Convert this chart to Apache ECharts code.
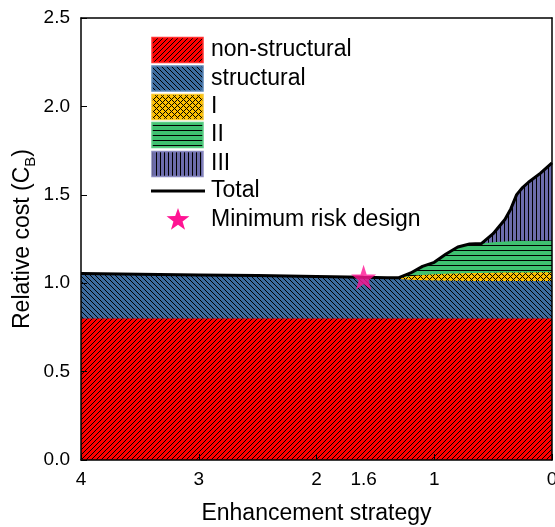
<!DOCTYPE html>
<html>
<head>
<meta charset="utf-8">
<script src="https://cdn.jsdelivr.net/npm/echarts@6/dist/echarts.min.js"></script>
<style>
  html, body { margin: 0; padding: 0; background: #fff; overflow: hidden; }
  #chart { width: 555px; height: 527px; }
</style>
</head>
<body>
<div id="chart"></div>
<script>
// Enhancement strategy (x) and the cost components stacked on top of each other
const strategy      = [4, 3.5, 3, 2.5, 2, 1.6, 1.4, 1.3, 1.2, 1.1, 1.0, 0.9, 0.8, 0.7, 0.6, 0.5, 0.4, 0.35, 0.3, 0.25, 0.2, 0.1, 0];
const nonStructural = [0.8, 0.8, 0.8, 0.8, 0.8, 0.8, 0.8, 0.8, 0.8, 0.8, 0.8, 0.8, 0.8, 0.8, 0.8, 0.8, 0.8, 0.8, 0.8, 0.8, 0.8, 0.8, 0.8];
const structural    = [0.255, 0.251, 0.247, 0.243, 0.238, 0.233, 0.228, 0.224, 0.220, 0.217, 0.215, 0.214, 0.214, 0.213, 0.213, 0.213, 0.213, 0.213, 0.213, 0.213, 0.213, 0.213, 0.213];
const costI         = [0, 0, 0, 0, 0, 0, 0.003, 0.007, 0.020, 0.029, 0.035, 0.039, 0.041, 0.044, 0.045, 0.046, 0.047, 0.047, 0.048, 0.048, 0.048, 0.049, 0.049];
const costII        = [0, 0, 0, 0, 0, 0, 0, 0, 0.018, 0.049, 0.068, 0.112, 0.150, 0.165, 0.166, 0.173, 0.176, 0.177, 0.180, 0.180, 0.178, 0.181, 0.180];
const costIII       = [0, 0, 0, 0, 0, 0, 0, 0, 0, 0, 0, 0, 0, 0, 0, 0.048, 0.124, 0.183, 0.260, 0.300, 0.332, 0.378, 0.438];

const minRiskStrategy = 1.6;
const xTickValues  = [4, 3, 2, 1, 0];
const xLabelValues = [4, 3, 2, 1.6, 1, 0];

const FONT = 'Liberation Sans, Arial, sans-serif';

// ---- hatch pattern tiles ----
function makeTile(size, base, isInk) {
  const c = document.createElement('canvas');
  c.width = size; c.height = size;
  const ctx = c.getContext('2d');
  ctx.fillStyle = base;
  ctx.fillRect(0, 0, size, size);
  ctx.fillStyle = '#000';
  for (let y = 0; y < size; y++) {
    for (let x = 0; x < size; x++) {
      if (isInk(x, y)) ctx.fillRect(x, y, 1, 1);
    }
  }
  return c;
}
const mod = (a, n) => ((a % n) + n) % n;
const tiles = {
  nonStructural: makeTile(5, '#ff0000', (x, y) => mod(x + y, 5) === 0),
  structural:    makeTile(5, '#3d6c9f', (x, y) => mod(x - y, 5) === 0),
  I:             makeTile(6, '#ffc000', (x, y) => mod(x + y, 6) === 0 || mod(x - y, 6) === 0),
  II:            makeTile(5, '#3fc170', (x, y) => y === 0),
  III:           makeTile(4, '#6c6cab', (x, y) => x === 0)
};
const pat = t => ({ image: t, repeat: 'repeat' });

const layers = [
  { name: 'non-structural', data: nonStructural, tile: tiles.nonStructural, edge: '#ff3030' },
  { name: 'structural',     data: structural,    tile: tiles.structural,    edge: '#5b86b8' },
  { name: 'I',              data: costI,         tile: tiles.I,             edge: '#f8c830' },
  { name: 'II',             data: costII,        tile: tiles.II,            edge: '#5ccd85' },
  { name: 'III',            data: costIII,       tile: tiles.III,           edge: '#8a8ac0' }
];

// Running sums: top edge of each layer; the last one is the total cost
const running = strategy.map(() => 0);
const layerTops = layers.map(l => {
  l.data.forEach((v, i) => { running[i] = +(running[i] + v).toFixed(4); });
  return running.slice();
});
const total = layerTops[layerTops.length - 1];
const minIdx = strategy.indexOf(minRiskStrategy);

const starPath = 'path://M50,0 L61.8,35.1 L98.1,35.1 L68.8,56.7 L79.4,91 L50,70 L20.6,91 L31.2,56.7 L1.9,35.1 L38.2,35.1 Z';

// Each layer is filled down to zero; lower layers are drawn on top of higher ones
const series = layers.map((l, k) => ({
  name: l.name,
  type: 'line',
  data: strategy.map((x, i) => [x, layerTops[k][i]]),
  showSymbol: false,
  symbol: 'none',
  lineStyle: { width: 0 },
  areaStyle: { color: pat(l.tile), opacity: 1, origin: 'start' },
  z: 2 + (layers.length - k),
  silent: true
}));

series.push({
  name: 'Total',
  type: 'line',
  data: strategy.map((x, i) => [x, total[i]]),
  showSymbol: false,
  symbol: 'none',
  lineStyle: { color: '#000', width: 3 },
  z: 8,
  silent: true,
  markLine: {
    silent: true,
    symbol: ['none', 'arrow'],
    symbolSize: [8, 10],
    label: { show: false },
    lineStyle: { color: '#000', width: 1, type: 'solid' },
    data: [[
      { coord: [minRiskStrategy, total[minIdx]] },
      { coord: [minRiskStrategy, 0] }
    ]]
  }
});

series.push({
  name: 'Minimum risk design',
  type: 'scatter',
  data: [[minRiskStrategy, total[minIdx]]],
  symbol: starPath,
  symbolSize: 25,
  itemStyle: { color: '#ff1493' },
  z: 9,
  silent: true
});

// ---- legend drawn as graphic elements ----
const legendX = 152, legendText = 211;
const legendRows = [50, 78.5, 107, 135, 164];
const legendFont = '23px ' + FONT;
const graphics = [];
layers.forEach((l, i) => {
  graphics.push({
    type: 'rect',
    z: 100,
    shape: { x: legendX, y: legendRows[i] - 12.5, width: 51, height: 25 },
    style: { fill: pat(l.tile), stroke: l.edge, lineWidth: 1.5 }
  });
  graphics.push({
    type: 'text',
    z: 100,
    style: { text: l.name, x: legendText, y: legendRows[i], font: legendFont, fill: '#000', verticalAlign: 'middle' }
  });
});
graphics.push({
  type: 'line',
  z: 100,
  shape: { x1: 151, y1: 191, x2: 205, y2: 191 },
  style: { stroke: '#000', lineWidth: 3 }
});
graphics.push({
  type: 'text',
  z: 100,
  style: { text: 'Total', x: legendText, y: 191, font: legendFont, fill: '#000', verticalAlign: 'middle' }
});
(function () {
  const cx = 178, cy = 220, ro = 12, ri = 4.8, pts = [];
  for (let k = 0; k < 10; k++) {
    const r = k % 2 === 0 ? ro : ri;
    const a = -Math.PI / 2 + k * Math.PI / 5;
    pts.push([cx + r * Math.cos(a), cy + r * Math.sin(a)]);
  }
  graphics.push({ type: 'polygon', z: 100, shape: { points: pts }, style: { fill: '#ff1493' } });
})();
graphics.push({
  type: 'text',
  z: 100,
  style: { text: 'Minimum risk design', x: legendText, y: 220, font: legendFont, fill: '#000', verticalAlign: 'middle' }
});

const frameLine = { show: true, onZero: false, lineStyle: { color: '#000', width: 1.5 } };

const option = {
  animation: false,
  backgroundColor: '#fff',
  textStyle: { fontFamily: FONT },
  grid: { left: 81, right: 3, top: 18, bottom: 67, containLabel: false, outerBoundsMode: 'none' },
  xAxis: [{
    type: 'value',
    min: 0, max: 4, interval: 1,
    inverse: true,
    position: 'bottom',
    z: 10,
    axisLine: frameLine,
    splitLine: { show: false },
    axisTick: { show: true, inside: true, length: 6, customValues: xTickValues, lineStyle: { color: '#000', width: 1 } },
    axisLabel: {
      customValues: xLabelValues,
      color: '#000', fontSize: 19, fontFamily: FONT, margin: 10,
      formatter: v => String(v)
    },
    name: 'Enhancement strategy',
    nameLocation: 'middle',
    nameGap: 42,
    nameMoveOverlap: false,
    nameTextStyle: { color: '#000', fontSize: 23, fontFamily: FONT }
  }, {
    type: 'value',
    min: 0, max: 4,
    inverse: true,
    position: 'top',
    z: 10,
    axisLine: frameLine,
    axisTick: { show: false },
    axisLabel: { show: false },
    splitLine: { show: false }
  }],
  yAxis: [{
    type: 'value',
    min: 0, max: 2.5, interval: 0.5,
    position: 'left',
    z: 10,
    axisLine: frameLine,
    splitLine: { show: false },
    axisTick: { show: true, inside: true, length: 6, lineStyle: { color: '#000', width: 1 } },
    axisLabel: { color: '#000', fontSize: 19, fontFamily: FONT, margin: 11, formatter: v => v.toFixed(1) },
    name: '{a|Relative cost (C}{b|B}{a|)}',
    nameLocation: 'middle',
    nameRotate: 90,
    nameGap: 43,
    nameMoveOverlap: false,
    nameTextStyle: {
      rich: {
        a: { fontSize: 23, fontFamily: FONT, color: '#000', lineHeight: 30, verticalAlign: 'middle' },
        b: { fontSize: 15, fontFamily: FONT, color: '#000', lineHeight: 30, verticalAlign: 'bottom' }
      }
    }
  }, {
    type: 'value',
    min: 0, max: 2.5,
    position: 'right',
    z: 10,
    axisLine: frameLine,
    axisTick: { show: false },
    axisLabel: { show: false },
    splitLine: { show: false }
  }],
  series: series,
  graphic: graphics
};

const chart = echarts.init(document.getElementById('chart'), null, { renderer: 'canvas', width: 555, height: 527 });
chart.setOption(option);
</script>
</body>
</html>
